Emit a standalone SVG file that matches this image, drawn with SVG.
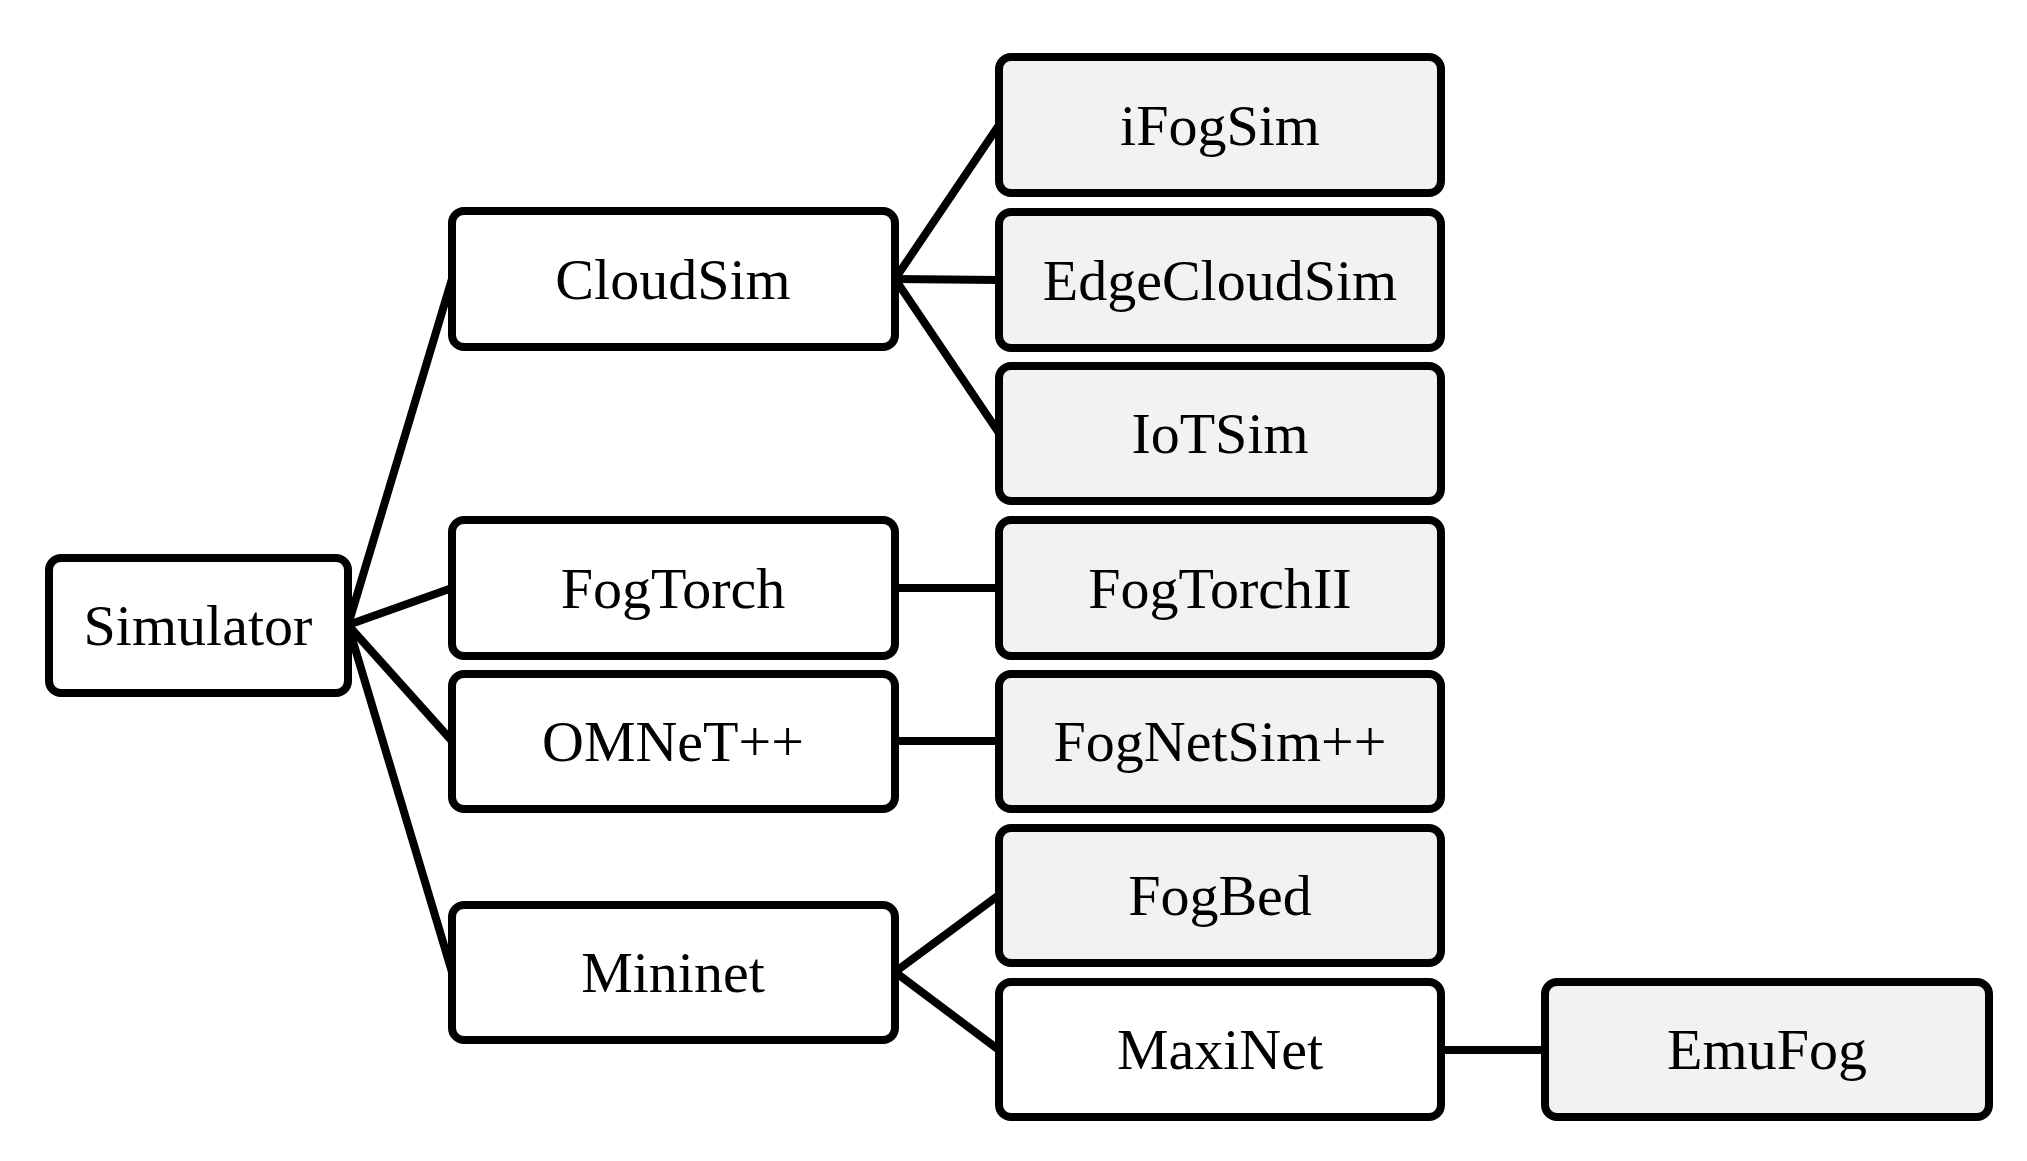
<svg xmlns="http://www.w3.org/2000/svg" width="2027" height="1161" viewBox="0 0 2027 1161">
<style>
.b rect{stroke:#000;stroke-width:8;rx:12;ry:12}
.w rect{fill:#fff}.g rect{fill:#f2f2f2}
text{font-family:"Liberation Serif",serif;font-size:58px;text-anchor:middle;fill:#000}
#edges line{stroke:#000;stroke-width:8;stroke-linecap:round}
</style>
<rect width="2027" height="1161" fill="#fff"/>
<g id="edges">
<line x1="348" y1="625" x2="452" y2="279"/>
<line x1="348" y1="625" x2="452" y2="588"/>
<line x1="348" y1="625" x2="452" y2="741"/>
<line x1="348" y1="625" x2="452" y2="972"/>
<line x1="895" y1="279" x2="999" y2="125"/>
<line x1="895" y1="279" x2="999" y2="280"/>
<line x1="895" y1="279" x2="999" y2="433"/>
<line x1="895" y1="588" x2="999" y2="588"/>
<line x1="895" y1="741" x2="999" y2="741"/>
<line x1="895" y1="972" x2="999" y2="895"/>
<line x1="895" y1="972" x2="999" y2="1050"/>
<line x1="1441" y1="1050" x2="1545" y2="1050"/>
</g>
<g id="simulator" class="b w"><rect x="49" y="558" width="299" height="135"/><text x="198" y="645">Simulator</text></g>
<g id="cloudsim" class="b w"><rect x="452" y="211" width="443" height="136"/><text x="673" y="299">CloudSim</text></g>
<g id="fogtorch" class="b w"><rect x="452" y="520" width="443" height="136"/><text x="673" y="608">FogTorch</text></g>
<g id="omnet" class="b w"><rect x="452" y="674" width="443" height="135"/><text x="673" y="761">OMNeT++</text></g>
<g id="mininet" class="b w"><rect x="452" y="905" width="443" height="135"/><text x="673" y="992">Mininet</text></g>
<g id="ifogsim" class="b g"><rect x="999" y="57" width="442" height="136"/><text x="1220" y="145">iFogSim</text></g>
<g id="edgecloudsim" class="b g"><rect x="999" y="212" width="442" height="136"/><text x="1220" y="300">EdgeCloudSim</text></g>
<g id="iotsim" class="b g"><rect x="999" y="366" width="442" height="135"/><text x="1220" y="453">IoTSim</text></g>
<g id="fogtorchii" class="b g"><rect x="999" y="520" width="442" height="136"/><text x="1220" y="608">FogTorchII</text></g>
<g id="fognetsim" class="b g"><rect x="999" y="674" width="442" height="135"/><text x="1220" y="761">FogNetSim++</text></g>
<g id="fogbed" class="b g"><rect x="999" y="828" width="442" height="135"/><text x="1220" y="915">FogBed</text></g>
<g id="maxinet" class="b w"><rect x="999" y="982" width="442" height="135"/><text x="1220" y="1069">MaxiNet</text></g>
<g id="emufog" class="b g"><rect x="1545" y="982" width="444" height="135"/><text x="1767" y="1069">EmuFog</text></g>
</svg>
